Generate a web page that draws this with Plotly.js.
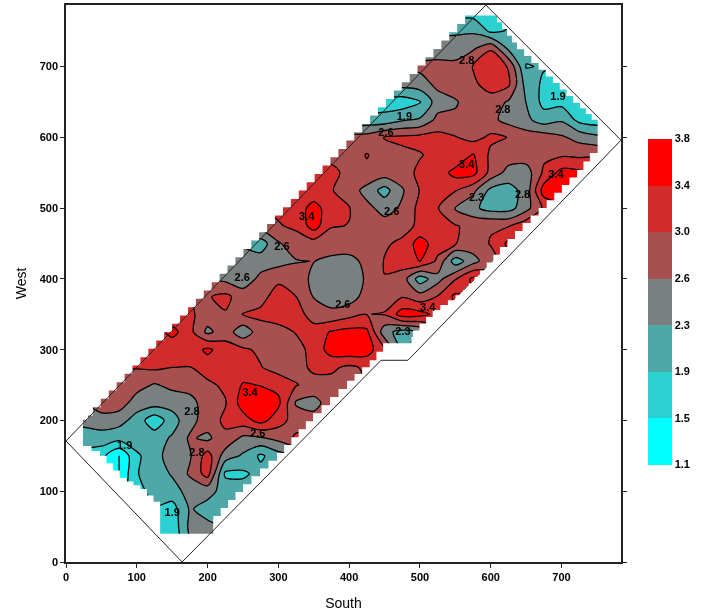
<!DOCTYPE html>
<html>
<head>
<meta charset="utf-8">
<script src="https://cdn.plot.ly/plotly-3.0.1.min.js"></script>
<style>html,body{margin:0;padding:0;background:#fff}#chart{width:701px;height:614px;filter:blur(0.4px)}</style>
</head>
<body>
<div id="chart"></div>
<script>
const _ = null;
const xCoords = [0,25,50,75,100,125,150,175,200,225,250,275,300,325,350,375,400,425,450,475,500,525,550,575,600,625,650,675,700,725,750,775];
const yCoords = [0,25,50,75,100,125,150,175,200,225,250,275,300,325,350,375,400,425,450,475,500,525,550,575,600,625,650,675,700,725,750,775];
const zRows = [
[],
[_,_,_,_,1.7,1.6,1.6,2.2,2.3,2.2,2.1],
[_,_,_,_,1.7,1.6,1.6,2.35,2.35,2.2,2.1],
[_,_,_,1.6,1.7,1.85,1.7,2.3,2.1,2.1,2.1,2.1],
[_,_,1.5,1.3,1.75,2.0,2.1,2.4,2.4,2.1,2.05,2.05],
[_,1.6,1.5,1.1,1.85,2.05,2.3,2.7,3.2,1.8,1.8,2.0,2.0],
[1.8,1.7,1.6,1.1,1.8,2.1,2.45,2.6,3.2,2.45,2.2,1.8,2.1,2.2],
[2.1,2.1,2.1,2.0,2.1,2.1,2.3,2.7,2.55,2.95,2.55,2.6,2.75,3.1,3.1],
[2.3,2.35,2.45,2.4,2.1,1.6,2.1,2.5,2.85,3.1,3.25,3.55,3.2,2.85,2.8,2.85],
[2.4,2.6,2.9,2.85,2.45,2.45,2.4,2.5,2.85,3.0,3.6,3.65,3.5,2.6,2.5,2.85,2.9],
[_,2.85,2.85,2.85,2.8,2.6,2.75,2.8,2.95,3.1,3.45,3.4,3.3,3.05,2.9,2.9,2.9,3.0],
[_,_,3.0,3.05,3.05,3.1,3.03,3.02,3.2,3.25,3.2,3.05,2.85,2.9,3.1,3.1,2.95,3.1,3.1],
[_,_,_,3.1,3.1,3.1,3.1,3.2,3.5,3.2,3.1,2.95,2.85,2.9,3.15,3.6,3.7,3.6,3.1,2.2],
[_,_,_,_,3.1,3.2,3.55,3.15,2.55,2.85,2.4,2.85,2.9,3.05,3.2,3.45,3.55,3.5,2.4,2.1,2.3],
[_,_,_,_,_,3.1,3.1,3.1,2.85,3.0,3.03,3.12,3.2,3.2,2.85,2.75,2.9,3.02,3.05,3.6,3.55,3.3],
[_,_,_,_,_,_,3.0,3.0,3.0,3.12,2.85,2.9,3.2,3.03,2.62,2.45,2.45,2.8,2.9,3.0,2.8,3.05,3.5],
[_,_,_,_,_,_,_,2.6,2.6,2.55,2.4,2.75,2.95,2.85,2.55,2.4,2.4,2.7,3.02,2.85,2.05,2.5,3.0,3.5],
[_,_,_,_,_,_,_,_,2.5,2.45,2.45,2.45,2.5,2.62,2.65,2.55,2.55,2.72,3.05,3.2,3.42,2.95,2.05,2.5,2.9],
[_,_,_,_,_,_,_,_,_,2.3,2.2,2.05,2.6,2.85,2.85,2.85,2.8,2.85,2.98,3.1,3.6,3.2,3.05,2.85,3.05,3.5],
[_,_,_,_,_,_,_,_,_,_,2.8,2.8,3.0,3.1,3.6,3.05,3.02,2.85,2.8,2.9,3.1,3.15,3.05,2.95,3.0,3.0,3.3],
[_,_,_,_,_,_,_,_,_,_,_,3.0,3.1,3.15,3.6,3.15,3.05,2.75,2.5,2.7,3.15,3.05,2.62,2.35,2.1,2.1,2.5,3.1,3.3],
[_,_,_,_,_,_,_,_,_,_,_,_,3.1,3.1,3.1,3.05,2.85,2.5,2.1,2.6,3.05,3.2,3.05,2.75,2.15,2.1,2.4,3.6,3.6],
[_,_,_,_,_,_,_,_,_,_,_,_,_,3.1,3.1,3.1,2.95,2.95,2.85,2.85,3.12,3.2,3.55,3.55,2.9,2.5,2.45,3.1,3.55,3.5],
[_,_,_,_,_,_,_,_,_,_,_,_,_,_,3.0,2.95,2.85,3.05,2.85,2.95,3.0,3.15,3.1,3.45,2.95,2.85,2.85,2.95,2.98,2.95,3.0],
[_,_,_,_,_,_,_,_,_,_,_,_,_,_,_,2.8,2.8,2.8,3.05,3.1,3.15,3.15,3.05,2.9,3.1,3.02,2.85,2.85,2.7,2.5,2.35,2.3],
[_,_,_,_,_,_,_,_,_,_,_,_,_,_,_,_,2.0,2.0,2.0,2.2,2.3,2.75,2.72,2.8,2.75,2.5,2.35,2.05,2.2,1.75,1.65,1.65],
[_,_,_,_,_,_,_,_,_,_,_,_,_,_,_,_,_,1.7,1.7,1.65,1.85,2.45,2.6,2.85,2.85,2.6,2.25,1.75,1.75,1.8,1.7,1.7],
[_,_,_,_,_,_,_,_,_,_,_,_,_,_,_,_,_,_,2.4,2.4,2.45,2.75,2.85,2.95,3.2,3.1,2.1,1.8,1.8,1.9],
[_,_,_,_,_,_,_,_,_,_,_,_,_,_,_,_,_,_,_,2.7,2.75,2.8,2.75,3.05,3.3,3.0,1.85,1.9,1.9],
[_,_,_,_,_,_,_,_,_,_,_,_,_,_,_,_,_,_,_,_,2.4,2.4,2.45,2.6,3.0,2.2,2.0,2.0],
[_,_,_,_,_,_,_,_,_,_,_,_,_,_,_,_,_,_,_,_,_,2.2,2.2,2.2,1.8,1.9,1.9],
[_,_,_,_,_,_,_,_,_,_,_,_,_,_,_,_,_,_,_,_,_,_,1.75,1.75,1.7,1.75,1.8]
];
const levelValues = [1.1,1.486,1.871,2.257,2.643,3.029,3.414,3.8];
const levelLabels = ["1.1","1.5","1.9","2.3","2.6","3.0","3.4","3.8"];
const bandColors = ["#00FFFF","#2BD0D0","#4FA8A8","#7A8080","#A85050","#D22B2B","#FF0000"];
const outlineX = [164,0,593,784,483,445,164];
const outlineY = [0,171,787,596,285,285,0];
const paintedX = [133,208,208,250,298,349,397,429,448,486,490,518,561,585,613,645,679,722,740,751,751,726,688,637,609,575,38,24,24,48,76,105,133,133];
const paintedY = [40,40,65,110,154,210,256,285,309,309,327,356,384,412,445,479,511,554,578,578,625,649,686,734,772,772,207,195,164,150,119,103,76,40];
const frameX = [0,0,784,784,0];
const frameY = [0,787,787,0,0];
const labelX = [566,617,695,452,478,566,580,645,692,460,340,305,249,391,511,476,178,260,271,185,83,150];
const labelY = [708,639,657,606,628,561,514,518,547,494,487,445,401,363,358,324,211,239,181,153,164,69];
const labelText = ["2.8","2.8","1.9","2.6","1.9","3.4","2.3","2.8","3.4","2.6","3.4","2.6","2.6","2.6","3.4","2.3","2.8","3.4","2.6","2.8","1.9","1.9"];
const tickValues = [0,100,200,300,400,500,600,700];

const zGrid = zRows.map(r => { const c = r.slice(); while (c.length < xCoords.length) c.push(null); return c; });
const scale = [];
bandColors.forEach((c, k) => { scale.push([k / bandColors.length, c]); scale.push([(k + 1) / bandColors.length, c]); });

// The unsampled area around the field is masked along a stepped edge, as in the original raster.
const maskX = frameX.slice(), maskY = frameY.slice();
for (let k = 0; k < paintedX.length; k++) {
  if (k === 0) { maskX.push(paintedX[0]); maskY.push(paintedY[0]); continue; }
  const dx = paintedX[k] - paintedX[k - 1], dy = paintedY[k] - paintedY[k - 1];
  const n = Math.max(1, Math.ceil(Math.max(Math.abs(dx), Math.abs(dy)) / 12));
  for (let s = 1; s <= n; s++) {
    maskX.push(paintedX[k - 1] + dx * s / n); maskY.push(paintedY[k - 1] + dy * (s - 1) / n);
    maskX.push(paintedX[k - 1] + dx * s / n); maskY.push(paintedY[k - 1] + dy * s / n);
  }
}
maskX.push(0); maskY.push(0);

const font = "Liberation Sans, Arial, sans-serif";
const axis = {
  showline: true, linecolor: "#222", linewidth: 1.5, ticks: "outside", ticklen: 4, tickcolor: "#222",
  tickmode: "array", tickvals: tickValues, showgrid: false, zeroline: false, tickfont: {family: font, size: 11, color: "#000", weight: 700}
};
const levels = {start: 1.1, end: 3.8, size: 0.3857};
Plotly.newPlot("chart", [
  {
    type: "contour", x: xCoords, y: yCoords, z: zGrid, zmin: 1.1, zmax: 3.8, autocontour: false, connectgaps: false,
    contours: Object.assign({coloring: "fill", showlines: false}, levels),
    line: {width: 0, smoothing: 0.8},
    colorscale: scale,
    colorbar: {
      x: 1.049, xanchor: "left", xpad: 0, y: 0.4676, yanchor: "middle", ypad: 0, len: 326, lenmode: "pixels", thickness: 24,
      outlinewidth: 0, ticks: "", tickmode: "array", tickvals: levelValues, ticktext: levelLabels,
      tickfont: {family: font, size: 11, color: "#000", weight: 700}
    }
  },
  {
    type: "contour", x: xCoords, y: yCoords, z: zGrid, zmin: 1.1, zmax: 3.8, autocontour: false, connectgaps: false, showscale: false,
    contours: Object.assign({coloring: "none", showlines: true}, levels),
    line: {color: "#000", width: 1.3, smoothing: 0.8}
  },
  {type: "scatter", mode: "none", x: maskX, y: maskY, fill: "toself", fillcolor: "#fff", hoverinfo: "skip"},
  {type: "scatter", mode: "lines", x: outlineX, y: outlineY, line: {color: "#222", width: 1}, hoverinfo: "skip"},
  {type: "scatter", mode: "text", x: labelX, y: labelY, text: labelText, textposition: "middle center",
   textfont: {family: font, size: 11, color: "#000", weight: 700}, hoverinfo: "skip"}
], {
  width: 701, height: 614, showlegend: false, paper_bgcolor: "#fff", plot_bgcolor: "#fff",
  margin: {l: 66, r: 80, t: 5, b: 51.5},
  xaxis: Object.assign({}, axis, {mirror: true, range: [0, 784], title: {text: "South", standoff: 16, font: {family: font, size: 14, color: "#000"}}}),
  yaxis: Object.assign({}, axis, {mirror: "ticks", range: [0, 787], title: {text: "West", standoff: 10, font: {family: font, size: 14, color: "#000"}}})
}, {displayModeBar: false, responsive: false});
</script>
</body>
</html>
